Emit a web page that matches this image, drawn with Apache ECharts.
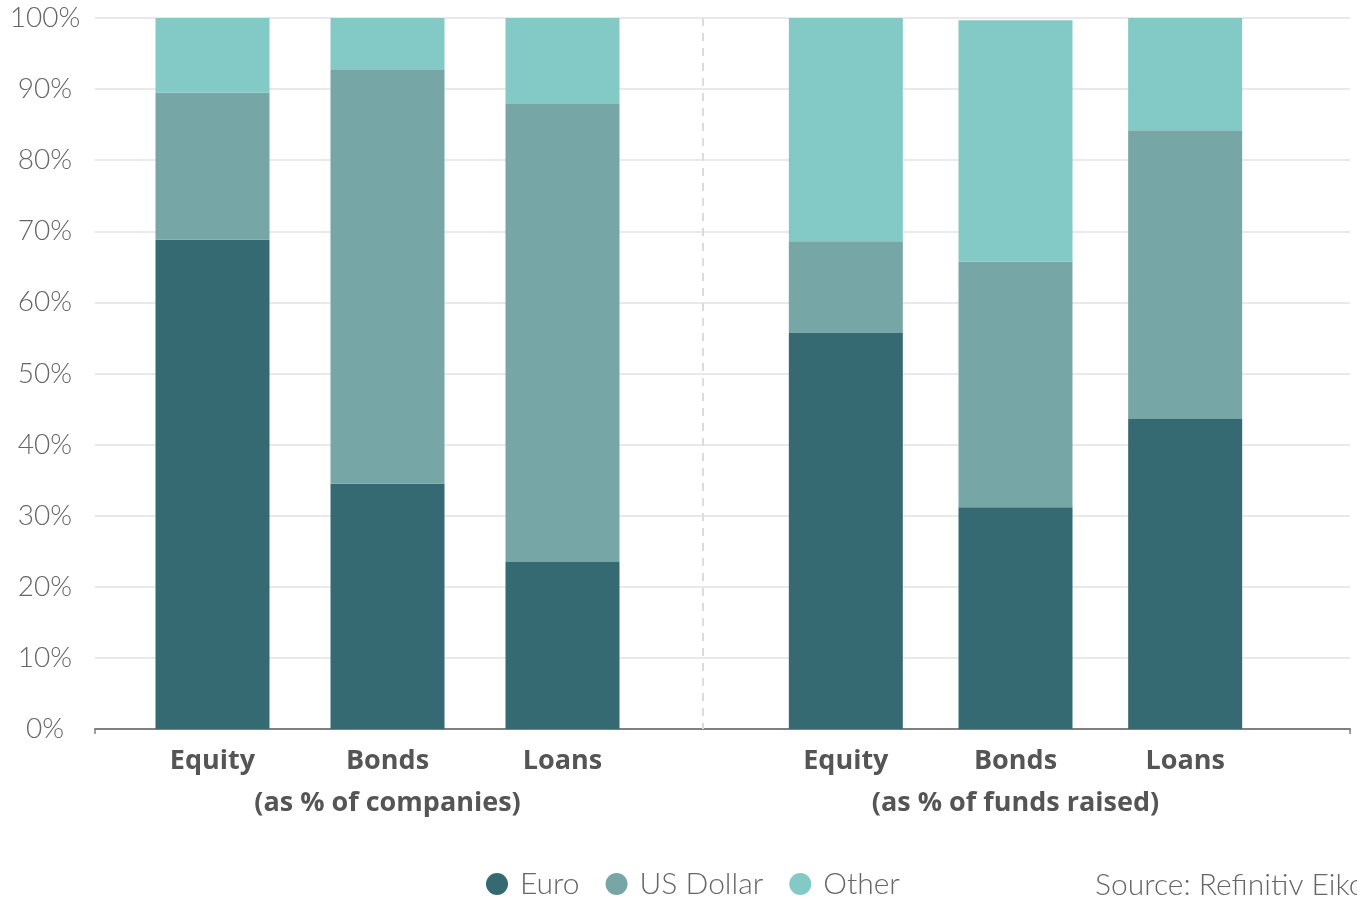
<!DOCTYPE html>
<html>
<head>
<meta charset="utf-8">
<script src="https://cdn.jsdelivr.net/npm/echarts@6/dist/echarts.min.js"></script>
<style>
  html, body { margin: 0; padding: 0; background: #ffffff; }
  #chart { width: 1357px; height: 899px; }
</style>
</head>
<body>
<div id="chart"></div>
<script>
// Currency breakdown of new issuance, by instrument
const categories = ['Equity', 'Bonds', 'Loans'];
const yTicks = [0, 10, 20, 30, 40, 50, 60, 70, 80, 90, 100];

// as % of companies
const companiesEuro  = [68.8, 34.5, 23.5];
const companiesUsd   = [20.7, 58.3, 64.4];
const companiesOther = [10.5, 7.2, 12.1];

// as % of funds raised
const fundsEuro  = [55.7, 31.2, 43.6];
const fundsUsd   = [12.9, 34.5, 40.6];
const fundsOther = [31.4, 34.0, 15.8];

const seriesNames = ['Euro', 'US Dollar', 'Other'];
const colors = ['#356a72', '#76a6a5', '#83cac6'];

const FONT = '"Open Sans", Lato, sans-serif';
const LIGHT = 'Lato, "Open Sans", sans-serif';
const H = 899;
const TOP = 18, BOTTOM = 170;
const frame = { left: 95, right: 7 };
const leftPanel = { left: 125, width: 525 };
const rightPanel = { left: 761, width: 509 };
const dividerX = 703;

const chart = echarts.init(document.getElementById('chart'), null, { renderer: 'canvas' });

function panelXAxis(gridIndex, name) {
  return {
    type: 'category', gridIndex, data: categories,
    axisLine: { show: false }, axisTick: { show: false },
    axisLabel: { color: '#555', fontFamily: FONT, fontWeight: 'bold', fontSize: 27, margin: 19 },
    name, nameLocation: 'middle', nameGap: 61,
    nameTextStyle: { color: '#555', fontFamily: FONT, fontWeight: 'bold', fontSize: 27 }
  };
}
function panelYAxis(gridIndex) {
  return { type: 'value', gridIndex, min: 0, max: 100, show: false, splitLine: { show: false } };
}
function bars(gridIndex, stack, values) {
  return values.map((v, i) => ({
    name: seriesNames[i], type: 'bar', stack,
    xAxisIndex: gridIndex, yAxisIndex: gridIndex,
    barWidth: 114, data: v,
    itemStyle: { color: colors[i] },
    emphasis: { disabled: true }
  }));
}

const option = {
  animation: false,
  color: colors,
  grid: [
    { left: frame.left, right: frame.right, top: TOP, bottom: BOTTOM },
    { left: leftPanel.left, width: leftPanel.width, top: TOP, bottom: BOTTOM },
    { left: rightPanel.left, width: rightPanel.width, top: TOP, bottom: BOTTOM }
  ],
  xAxis: [
    {
      type: 'value', gridIndex: 0, min: 0, max: 1, interval: 1,
      axisLine: { show: true, lineStyle: { color: '#808080', width: 2 } },
      axisTick: { show: true, length: 5, lineStyle: { color: '#808080', width: 1.5 } },
      axisLabel: { show: false }, splitLine: { show: false }
    },
    panelXAxis(1, '(as % of companies)'),
    panelXAxis(2, '(as % of funds raised)')
  ],
  yAxis: [
    {
      type: 'value', gridIndex: 0, min: yTicks[0], max: yTicks[yTicks.length - 1], interval: 10,
      axisLine: { show: false }, axisTick: { show: false },
      axisLabel: {
        formatter: '{value}%', color: '#666', fontFamily: LIGHT, fontWeight: 300,
        fontSize: 28, align: 'center', margin: 50
      },
      splitLine: { lineStyle: { color: '#e2e2e2', width: 1.5 } }
    },
    panelYAxis(1),
    panelYAxis(2)
  ],
  legend: {
    data: seriesNames, left: 481, top: 864,
    icon: 'circle', itemWidth: 22, itemHeight: 22, itemGap: 26,
    textStyle: { color: '#666', fontFamily: LIGHT, fontWeight: 300, fontSize: 30, padding: [0, 0, 0, 7] }
  },
  graphic: [
    {
      type: 'line', silent: true, z: 1,
      shape: { x1: dividerX, y1: TOP, x2: dividerX, y2: H - BOTTOM },
      style: { stroke: '#dcdcdc', lineWidth: 2, lineDash: [8, 7] }
    },
    {
      type: 'text', left: 1095, top: 870,
      style: { text: 'Source: Refinitiv Eikon', fill: '#666', font: '300 30px ' + LIGHT }
    }
  ],
  series: [
    ...bars(1, 'companies', [companiesEuro, companiesUsd, companiesOther]),
    ...bars(2, 'funds', [fundsEuro, fundsUsd, fundsOther])
  ]
};

chart.setOption(option);
</script>
</body>
</html>
